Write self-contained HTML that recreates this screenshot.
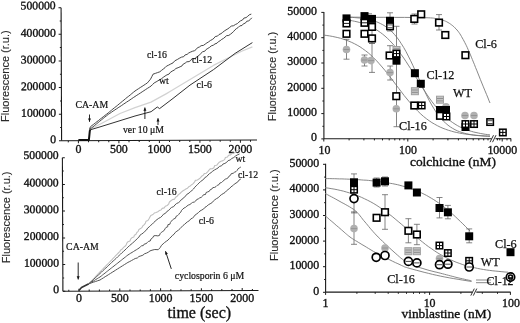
<!DOCTYPE html>
<html><head><meta charset="utf-8"><style>
html,body{margin:0;padding:0;background:#fff;width:520px;height:323px;overflow:hidden}
svg{display:block;will-change:transform;filter:blur(0.3px)}
</style></head><body>
<svg width="520" height="323" viewBox="0 0 520 323">
<rect width="520" height="323" fill="#fff"/>
<g transform="rotate(-0.22 61.6 140.8)">
<line x1="61.6" y1="7.7" x2="61.6" y2="140.8" stroke="#1a1a1a" stroke-width="1.1"/>
<line x1="61.6" y1="7.7" x2="59.0" y2="7.7" stroke="#1a1a1a" stroke-width="1"/>
<line x1="61.6" y1="21.0" x2="60.2" y2="21.0" stroke="#1a1a1a" stroke-width="1"/>
<text x="56.2" y="9.3" font-family='"Liberation Serif", serif' font-size="11.7" text-anchor="end" fill="#111" stroke="#111" stroke-width="0.35" >500000</text>
<line x1="61.6" y1="34.3" x2="59.0" y2="34.3" stroke="#1a1a1a" stroke-width="1"/>
<line x1="61.6" y1="47.6" x2="60.2" y2="47.6" stroke="#1a1a1a" stroke-width="1"/>
<text x="56.2" y="36.7" font-family='"Liberation Serif", serif' font-size="11.7" text-anchor="end" fill="#111" stroke="#111" stroke-width="0.35" >400000</text>
<line x1="61.6" y1="60.9" x2="59.0" y2="60.9" stroke="#1a1a1a" stroke-width="1"/>
<line x1="61.6" y1="74.2" x2="60.2" y2="74.2" stroke="#1a1a1a" stroke-width="1"/>
<text x="56.2" y="63.3" font-family='"Liberation Serif", serif' font-size="11.7" text-anchor="end" fill="#111" stroke="#111" stroke-width="0.35" >300000</text>
<line x1="61.6" y1="87.6" x2="59.0" y2="87.6" stroke="#1a1a1a" stroke-width="1"/>
<line x1="61.6" y1="100.9" x2="60.2" y2="100.9" stroke="#1a1a1a" stroke-width="1"/>
<text x="56.2" y="90.0" font-family='"Liberation Serif", serif' font-size="11.7" text-anchor="end" fill="#111" stroke="#111" stroke-width="0.35" >200000</text>
<line x1="61.6" y1="114.2" x2="59.0" y2="114.2" stroke="#1a1a1a" stroke-width="1"/>
<line x1="61.6" y1="127.5" x2="60.2" y2="127.5" stroke="#1a1a1a" stroke-width="1"/>
<text x="56.2" y="116.6" font-family='"Liberation Serif", serif' font-size="11.7" text-anchor="end" fill="#111" stroke="#111" stroke-width="0.35" >100000</text>
<line x1="61.6" y1="140.8" x2="59.0" y2="140.8" stroke="#1a1a1a" stroke-width="1"/>
<text x="56.2" y="143.2" font-family='"Liberation Serif", serif' font-size="11.7" text-anchor="end" fill="#111" stroke="#111" stroke-width="0.35" >0</text>
<line x1="61.6" y1="140.8" x2="257.0" y2="140.8" stroke="#1a1a1a" stroke-width="1.1"/>
<line x1="68.3" y1="140.8" x2="68.3" y2="142.4" stroke="#1a1a1a" stroke-width="1"/>
<line x1="78.4" y1="140.8" x2="78.4" y2="143.4" stroke="#1a1a1a" stroke-width="1"/>
<line x1="88.5" y1="140.8" x2="88.5" y2="142.4" stroke="#1a1a1a" stroke-width="1"/>
<line x1="98.7" y1="140.8" x2="98.7" y2="142.4" stroke="#1a1a1a" stroke-width="1"/>
<line x1="108.8" y1="140.8" x2="108.8" y2="142.4" stroke="#1a1a1a" stroke-width="1"/>
<line x1="118.9" y1="140.8" x2="118.9" y2="143.4" stroke="#1a1a1a" stroke-width="1"/>
<line x1="129.0" y1="140.8" x2="129.0" y2="142.4" stroke="#1a1a1a" stroke-width="1"/>
<line x1="139.2" y1="140.8" x2="139.2" y2="142.4" stroke="#1a1a1a" stroke-width="1"/>
<line x1="149.3" y1="140.8" x2="149.3" y2="142.4" stroke="#1a1a1a" stroke-width="1"/>
<line x1="159.4" y1="140.8" x2="159.4" y2="143.4" stroke="#1a1a1a" stroke-width="1"/>
<line x1="169.5" y1="140.8" x2="169.5" y2="142.4" stroke="#1a1a1a" stroke-width="1"/>
<line x1="179.7" y1="140.8" x2="179.7" y2="142.4" stroke="#1a1a1a" stroke-width="1"/>
<line x1="189.8" y1="140.8" x2="189.8" y2="142.4" stroke="#1a1a1a" stroke-width="1"/>
<line x1="199.9" y1="140.8" x2="199.9" y2="143.4" stroke="#1a1a1a" stroke-width="1"/>
<line x1="210.0" y1="140.8" x2="210.0" y2="142.4" stroke="#1a1a1a" stroke-width="1"/>
<line x1="220.2" y1="140.8" x2="220.2" y2="142.4" stroke="#1a1a1a" stroke-width="1"/>
<line x1="230.3" y1="140.8" x2="230.3" y2="142.4" stroke="#1a1a1a" stroke-width="1"/>
<line x1="240.4" y1="140.8" x2="240.4" y2="143.4" stroke="#1a1a1a" stroke-width="1"/>
<line x1="250.5" y1="140.8" x2="250.5" y2="142.4" stroke="#1a1a1a" stroke-width="1"/>
</g>
<text x="78.4" y="152.9" font-family='"Liberation Serif", serif' font-size="11.9" text-anchor="middle" fill="#111" stroke="#111" stroke-width="0.35" >0</text>
<text x="118.9" y="152.9" font-family='"Liberation Serif", serif' font-size="11.9" text-anchor="middle" fill="#111" stroke="#111" stroke-width="0.35" >500</text>
<text x="159.4" y="152.9" font-family='"Liberation Serif", serif' font-size="11.9" text-anchor="middle" fill="#111" stroke="#111" stroke-width="0.35" >1000</text>
<text x="199.9" y="152.9" font-family='"Liberation Serif", serif' font-size="11.9" text-anchor="middle" fill="#111" stroke="#111" stroke-width="0.35" >1500</text>
<text x="240.4" y="152.9" font-family='"Liberation Serif", serif' font-size="11.9" text-anchor="middle" fill="#111" stroke="#111" stroke-width="0.35" >2000</text>
<g transform="rotate(-0.22 62.9 291.3)">
<line x1="62.9" y1="157.7" x2="62.9" y2="291.3" stroke="#1a1a1a" stroke-width="1.1"/>
<line x1="62.9" y1="157.7" x2="65.3" y2="157.7" stroke="#1a1a1a" stroke-width="1"/>
<line x1="62.9" y1="171.1" x2="64.2" y2="171.1" stroke="#1a1a1a" stroke-width="1"/>
<text x="59.1" y="158.9" font-family='"Liberation Serif", serif' font-size="11.7" text-anchor="end" fill="#111" stroke="#111" stroke-width="0.35" >500000</text>
<line x1="62.9" y1="184.4" x2="65.3" y2="184.4" stroke="#1a1a1a" stroke-width="1"/>
<line x1="62.9" y1="197.8" x2="64.2" y2="197.8" stroke="#1a1a1a" stroke-width="1"/>
<text x="59.1" y="186.4" font-family='"Liberation Serif", serif' font-size="11.7" text-anchor="end" fill="#111" stroke="#111" stroke-width="0.35" >400000</text>
<line x1="62.9" y1="211.1" x2="65.3" y2="211.1" stroke="#1a1a1a" stroke-width="1"/>
<line x1="62.9" y1="224.5" x2="64.2" y2="224.5" stroke="#1a1a1a" stroke-width="1"/>
<text x="59.1" y="213.1" font-family='"Liberation Serif", serif' font-size="11.7" text-anchor="end" fill="#111" stroke="#111" stroke-width="0.35" >300000</text>
<line x1="62.9" y1="237.9" x2="65.3" y2="237.9" stroke="#1a1a1a" stroke-width="1"/>
<line x1="62.9" y1="251.2" x2="64.2" y2="251.2" stroke="#1a1a1a" stroke-width="1"/>
<text x="59.1" y="239.9" font-family='"Liberation Serif", serif' font-size="11.7" text-anchor="end" fill="#111" stroke="#111" stroke-width="0.35" >200000</text>
<line x1="62.9" y1="264.6" x2="65.3" y2="264.6" stroke="#1a1a1a" stroke-width="1"/>
<line x1="62.9" y1="277.9" x2="64.2" y2="277.9" stroke="#1a1a1a" stroke-width="1"/>
<text x="59.1" y="266.6" font-family='"Liberation Serif", serif' font-size="11.7" text-anchor="end" fill="#111" stroke="#111" stroke-width="0.35" >100000</text>
<line x1="62.9" y1="291.3" x2="65.3" y2="291.3" stroke="#1a1a1a" stroke-width="1"/>
<text x="59.1" y="293.3" font-family='"Liberation Serif", serif' font-size="11.7" text-anchor="end" fill="#111" stroke="#111" stroke-width="0.35" >0</text>
<line x1="62.9" y1="291.3" x2="258.5" y2="291.3" stroke="#1a1a1a" stroke-width="1.1"/>
<line x1="68.8" y1="291.3" x2="68.8" y2="289.7" stroke="#1a1a1a" stroke-width="1"/>
<line x1="79.0" y1="291.3" x2="79.0" y2="288.7" stroke="#1a1a1a" stroke-width="1"/>
<line x1="89.2" y1="291.3" x2="89.2" y2="289.7" stroke="#1a1a1a" stroke-width="1"/>
<line x1="99.4" y1="291.3" x2="99.4" y2="289.7" stroke="#1a1a1a" stroke-width="1"/>
<line x1="109.6" y1="291.3" x2="109.6" y2="289.7" stroke="#1a1a1a" stroke-width="1"/>
<line x1="119.8" y1="291.3" x2="119.8" y2="288.7" stroke="#1a1a1a" stroke-width="1"/>
<line x1="130.0" y1="291.3" x2="130.0" y2="289.7" stroke="#1a1a1a" stroke-width="1"/>
<line x1="140.2" y1="291.3" x2="140.2" y2="289.7" stroke="#1a1a1a" stroke-width="1"/>
<line x1="150.4" y1="291.3" x2="150.4" y2="289.7" stroke="#1a1a1a" stroke-width="1"/>
<line x1="160.6" y1="291.3" x2="160.6" y2="288.7" stroke="#1a1a1a" stroke-width="1"/>
<line x1="170.8" y1="291.3" x2="170.8" y2="289.7" stroke="#1a1a1a" stroke-width="1"/>
<line x1="181.0" y1="291.3" x2="181.0" y2="289.7" stroke="#1a1a1a" stroke-width="1"/>
<line x1="191.2" y1="291.3" x2="191.2" y2="289.7" stroke="#1a1a1a" stroke-width="1"/>
<line x1="201.4" y1="291.3" x2="201.4" y2="288.7" stroke="#1a1a1a" stroke-width="1"/>
<line x1="211.6" y1="291.3" x2="211.6" y2="289.7" stroke="#1a1a1a" stroke-width="1"/>
<line x1="221.8" y1="291.3" x2="221.8" y2="289.7" stroke="#1a1a1a" stroke-width="1"/>
<line x1="232.0" y1="291.3" x2="232.0" y2="289.7" stroke="#1a1a1a" stroke-width="1"/>
<line x1="242.2" y1="291.3" x2="242.2" y2="288.7" stroke="#1a1a1a" stroke-width="1"/>
<line x1="252.4" y1="291.3" x2="252.4" y2="289.7" stroke="#1a1a1a" stroke-width="1"/>
</g>
<text x="79.0" y="301.9" font-family='"Liberation Serif", serif' font-size="11.9" text-anchor="middle" fill="#111" stroke="#111" stroke-width="0.35" >0</text>
<text x="119.8" y="301.9" font-family='"Liberation Serif", serif' font-size="11.9" text-anchor="middle" fill="#111" stroke="#111" stroke-width="0.35" >500</text>
<text x="160.6" y="301.9" font-family='"Liberation Serif", serif' font-size="11.9" text-anchor="middle" fill="#111" stroke="#111" stroke-width="0.35" >1000</text>
<text x="201.4" y="301.9" font-family='"Liberation Serif", serif' font-size="11.9" text-anchor="middle" fill="#111" stroke="#111" stroke-width="0.35" >1500</text>
<text x="242.2" y="301.9" font-family='"Liberation Serif", serif' font-size="11.9" text-anchor="middle" fill="#111" stroke="#111" stroke-width="0.35" >2000</text>
<polyline points="78.4,139.9 88.9,139.9 89.8,131.0 90.3,129.3" fill="none" stroke="#111" stroke-width="2.0" stroke-linejoin="round" opacity="1"/>
<polyline points="89.6,129.5 100.0,124.2 120.0,113.5 135.0,107.6 151.0,102.1 166.5,93.6 170.0,91.6 190.0,79.6 213.4,65.4 241.6,51.3 252.4,46.9" fill="none" stroke="#d2d2d2" stroke-width="1.2" stroke-linejoin="round" opacity="1"/>
<polyline points="89.6,130.0 100.0,126.9 135.0,116.0 151.1,111.7 157.3,107.0 159.6,108.6 172.0,99.2 190.0,85.1 213.4,69.7 235.1,53.4 252.4,42.6" fill="none" stroke="#333" stroke-width="1.0" stroke-linejoin="round" opacity="1"/>
<polyline points="89.6,129.5 91.3,128.1 93.0,126.8 94.7,125.4 96.4,124.0 98.1,122.6 99.7,121.3 101.4,119.9 103.1,118.5 104.8,117.1 106.5,115.8 108.2,114.4 109.9,113.3 111.5,112.2 113.2,111.0 114.9,109.9 116.6,108.8 118.2,107.7 119.9,106.6 121.6,105.5 123.3,104.3 125.0,103.2 126.6,102.1 128.3,101.0 130.0,99.9 131.7,98.7 133.3,97.6 135.0,96.5 136.8,95.3 138.6,94.2 140.4,93.0 142.2,91.8 143.9,90.7 145.7,89.5 147.5,88.3 149.3,87.2 151.1,86.0 152.6,84.5 154.2,82.9 156.1,81.9 157.9,80.8 159.8,79.8 161.6,78.6 163.3,77.3 165.1,76.0 166.9,74.9 169.0,74.1 170.4,72.3 172.2,71.1 174.2,70.1 175.9,68.5 178.1,67.7 180.1,66.8 182.0,65.9 183.3,64.0 185.2,63.1 186.8,61.8 189.1,61.6 190.8,60.4 192.1,58.5 194.6,58.6 196.4,57.5 197.9,56.1 199.7,54.9 201.0,53.2 202.6,51.8 204.8,51.2 206.1,49.5 207.9,48.4 209.7,47.3 211.2,45.9 213.3,45.2 215.0,43.9 217.0,43.2 218.4,41.7 220.2,40.7 221.7,39.4 223.5,38.4 225.0,37.1 226.6,35.7 228.8,35.4 230.5,34.2 232.1,32.9 233.6,31.5 235.0,29.8 236.6,28.5 238.3,27.4 239.8,25.9 242.0,25.5 243.4,23.8 245.4,23.1 246.7,21.3 248.8,20.8 250.4,19.4 251.8,17.8" fill="none" stroke="#333" stroke-width="0.9" stroke-linejoin="round" opacity="1"/>
<polyline points="89.6,129.0 90.4,126.8 92.0,125.5 93.6,124.3 95.3,123.0 96.9,121.7 98.5,120.5 100.1,119.2 101.7,118.0 103.3,116.7 105.0,115.4 106.6,114.2 108.2,112.9 109.8,111.6 111.4,110.3 112.9,109.0 114.5,107.7 116.1,106.5 117.7,105.2 119.2,103.9 120.8,102.6 122.4,101.3 124.0,100.0 125.5,98.7 127.1,97.4 128.7,96.2 130.3,94.9 131.8,93.6 133.4,92.3 135.0,91.0 136.8,89.8 138.5,88.7 140.3,87.5 142.1,86.4 143.9,85.2 145.6,84.1 147.4,82.9 148.9,81.1 150.5,79.2 151.8,76.7 153.0,74.2 155.3,73.4 157.5,72.6 159.8,71.8 161.5,70.4 163.2,69.1 165.0,67.7 166.5,66.1 168.5,65.2 170.7,64.0 173.0,62.9 174.8,60.8 177.3,59.5 179.8,58.0 181.6,57.1 183.7,56.7 185.1,54.9 187.1,54.4 188.7,53.0 190.5,52.1 192.4,51.3 194.5,50.7 196.1,49.5 197.5,47.7 199.4,47.0 201.1,45.7 203.4,45.4 205.2,44.1 206.9,42.9 208.7,41.8 210.4,40.5 212.3,39.5 214.0,38.2 215.3,36.5 217.5,36.1 219.0,34.5 221.0,33.7 222.6,32.4 224.2,31.1 226.0,29.9 227.9,28.8 229.6,27.5 231.3,26.1 233.6,25.7 235.4,24.5 237.4,23.6 238.9,22.1 240.6,20.8 242.5,20.0 243.9,18.1 246.1,17.6 247.7,16.3 249.3,14.8 251.3,14.1" fill="none" stroke="#333" stroke-width="0.9" stroke-linejoin="round" opacity="1"/>
<line x1="89.5" y1="114.5" x2="89.5" y2="121.8" stroke="#111" stroke-width="0.9"/>
<polygon points="89.5,121.8 88.0,118.6 91.0,118.6" fill="#111"/>
<line x1="144.9" y1="119.0" x2="144.9" y2="107.5" stroke="#111" stroke-width="0.9"/>
<polygon points="144.9,107.5 146.4,110.7 143.4,110.7" fill="#111"/>
<line x1="158.0" y1="125.0" x2="158.0" y2="118.2" stroke="#111" stroke-width="0.9"/>
<polygon points="158.0,118.2 159.5,121.4 156.5,121.4" fill="#111"/>
<text x="75.5" y="107.6" font-family='"Liberation Serif", serif' font-size="9.8" text-anchor="start" fill="#111" stroke="#111" stroke-width="0.2" >CA-AM</text>
<text x="146.9" y="58.4" font-family='"Liberation Serif", serif' font-size="9.8" text-anchor="start" fill="#111" stroke="#111" stroke-width="0.2" >cl-16</text>
<text x="192.0" y="63.0" font-family='"Liberation Serif", serif' font-size="9.8" text-anchor="start" fill="#111" stroke="#111" stroke-width="0.2" >cl-12</text>
<text x="159.0" y="84.4" font-family='"Liberation Serif", serif' font-size="9.8" text-anchor="start" fill="#111" stroke="#111" stroke-width="0.2" >wt</text>
<text x="196.6" y="88.2" font-family='"Liberation Serif", serif' font-size="9.8" text-anchor="start" fill="#111" stroke="#111" stroke-width="0.2" >cl-6</text>
<text x="122.9" y="132.6" font-family='"Liberation Serif", serif' font-size="9.8" text-anchor="start" fill="#111" stroke="#111" stroke-width="0.2" >ver 10 &#956;M</text>
<polyline points="78.7,290.8 81.5,287.5 88.9,283.7" fill="none" stroke="#333" stroke-width="1.6" stroke-linejoin="round" opacity="1"/>
<polyline points="88.9,283.7 90.3,282.2 91.7,280.8 93.1,279.3 94.5,277.9 95.8,276.4 97.2,274.9 98.6,273.5 100.0,272.0 101.3,270.6 102.6,269.3 103.9,267.9 105.2,266.6 106.6,265.2 107.9,263.9 109.2,262.5 110.5,261.1 111.8,259.8 113.1,258.4 114.4,257.1 115.7,255.7 117.0,254.3 118.3,253.0 119.7,251.6 120.7,250.0 122.3,249.0 123.5,247.4 125.0,246.3 126.2,244.9 126.8,243.1 128.0,241.7 130.0,241.0 130.6,239.1 131.8,237.8 133.8,237.1 134.4,235.2 136.0,234.2 136.8,232.5 138.2,231.3 138.9,229.5 140.6,228.6 142.0,227.4 142.9,225.7 144.3,224.6 145.4,223.1 146.0,221.2 147.9,220.5 148.9,219.0 149.8,217.3 150.8,215.4 153.0,214.5 154.3,213.1 156.1,212.5 157.8,211.8 159.3,210.6 161.0,210.0 162.2,208.4 164.2,207.9 165.3,206.3 167.2,205.5 168.6,204.2 169.4,202.0 170.9,200.8 172.4,199.6 174.6,199.1 175.6,197.3 177.2,196.2 178.4,194.6 180.0,193.5 181.3,192.2 182.7,191.0 184.3,190.1 185.8,189.0 187.5,188.2 188.7,186.8 190.3,185.9 191.7,184.7 193.2,183.6 194.4,182.1 195.4,180.4 197.4,180.0 198.9,179.0 200.3,177.8 201.6,176.3 203.2,175.3 204.3,173.6 206.3,173.2 207.6,171.8 208.8,170.3 210.1,168.9 212.3,168.7 213.9,167.7 214.7,165.5 216.8,165.2 218.0,163.6 219.3,162.2 221.0,161.2 223.0,160.6 224.6,159.6 225.4,157.5 227.5,157.0 228.5,155.3 230.6,154.9 231.9,153.3 233.9,153.1 235.5,152.3 236.8,150.8 238.7,150.5 240.0,149.0" fill="none" stroke="#c0c0c0" stroke-width="1.1" stroke-linejoin="round" opacity="1"/>
<polyline points="88.9,283.7 90.5,282.2 92.1,280.8 93.7,279.3 95.2,277.9 96.8,276.4 98.4,275.0 100.0,273.5 101.5,272.1 102.9,270.7 104.4,269.3 105.9,268.0 107.3,266.6 108.8,265.2 110.3,263.8 111.7,262.4 113.2,261.0 114.7,259.7 116.2,258.3 117.6,256.9 119.1,255.5 120.6,254.1 122.0,252.7 123.5,251.4 125.0,250.0 126.4,248.6 127.9,247.2 129.4,245.7 131.0,244.4 132.6,243.0 134.2,241.6 135.8,240.2 137.2,238.6 138.8,237.3 139.9,235.3 141.6,234.1 143.4,232.9 144.8,231.3 146.5,230.0 147.6,228.1 149.3,226.8 150.7,225.3 152.4,224.0 153.9,222.5 155.3,220.9 157.0,219.6 158.7,218.3 160.6,217.4 162.2,215.9 163.5,214.2 165.5,213.3 166.8,211.5 168.6,210.5 170.0,208.8 171.6,207.4 173.7,206.6 175.0,204.9 176.6,203.5 178.6,202.6 180.2,201.2 181.4,199.5 183.2,198.5 184.4,196.9 186.0,195.7 187.2,194.0 189.1,193.1 190.4,191.6 192.1,190.4 193.5,189.0 194.7,187.3 196.2,185.9 197.5,184.5 199.0,183.1 200.4,181.7 202.0,180.5 203.7,179.3 204.8,177.6 206.7,176.6 208.0,175.0 209.4,173.7 211.1,172.6 212.7,171.2 214.4,170.0 216.2,169.0 218.0,168.0 219.4,166.4 221.6,165.8 222.9,164.1 224.9,163.4 226.7,162.3 228.1,160.6 230.1,160.0 231.8,158.5 233.8,157.5 235.5,156.0 237.4,154.9 239.5,154.0" fill="none" stroke="#555" stroke-width="1.0" stroke-linejoin="round" opacity="1"/>
<polyline points="88.9,283.7 90.3,282.9 91.7,282.0 93.1,281.2 94.5,280.4 95.8,279.5 97.2,278.7 98.6,277.8 100.0,277.0 101.3,276.0 102.5,275.0 103.8,274.0 105.1,273.0 106.3,272.0 107.6,271.0 108.9,270.0 110.1,269.0 111.4,268.0 112.7,267.0 114.0,266.0 115.2,265.0 116.5,264.0 117.8,263.0 119.0,262.0 120.3,261.0 121.6,260.0 122.8,259.0 124.1,258.0 125.4,257.0 126.6,256.0 127.9,255.0 129.3,254.1 130.7,253.2 132.1,252.4 133.5,251.5 134.9,250.6 136.3,249.8 137.7,248.9 139.1,248.0 140.3,246.9 141.6,245.8 143.3,245.6 144.3,244.0 146.0,243.7 147.3,242.6 148.5,241.4 150.2,241.0 150.9,239.1 152.6,237.9 153.8,235.8 155.9,235.6 157.9,235.9 159.5,235.4 160.1,233.7 161.3,232.4 162.8,231.4 164.3,230.3 165.0,228.8 166.0,227.4 167.7,226.8 167.9,224.7 169.9,224.2 170.4,222.5 171.4,221.2 172.5,219.9 173.9,218.9 175.5,218.2 176.0,216.4 177.6,215.6 178.8,214.4 179.7,213.0 181.0,211.9 181.6,210.3 182.8,209.1 184.1,208.0 185.6,207.3 186.9,206.1 188.3,205.1 189.9,204.5 191.3,203.4 192.6,202.4 194.4,202.0 195.7,201.0 196.7,199.5 198.3,198.9 199.7,197.9 201.3,197.3 202.5,196.2 203.5,194.7 205.5,194.5 206.1,192.5 207.7,191.9 209.3,191.3 210.2,189.7 211.8,189.1 212.8,187.6 214.7,187.4 216.1,186.5 217.3,185.3 218.9,184.7 219.8,183.1 221.5,182.5 222.7,181.4 224.0,180.3 225.2,179.2 226.8,178.6 228.2,177.7 229.1,176.1 230.5,175.3 231.3,173.6 233.2,173.3 234.4,172.3 236.0,171.6 237.2,170.4 238.0,168.8 239.4,167.9 240.8,167.0" fill="none" stroke="#555" stroke-width="1.0" stroke-linejoin="round" opacity="1"/>
<polyline points="88.9,283.7 91.1,283.0 93.3,282.2 95.6,281.5 97.8,280.7 100.0,280.0 101.7,278.9 103.5,277.8 105.2,276.7 107.0,275.6 108.7,274.5 110.5,273.4 112.2,272.3 114.0,271.2 115.7,270.1 117.4,269.0 119.2,267.9 120.9,266.8 122.7,265.7 124.4,264.6 126.2,263.5 127.9,262.4 129.8,261.5 131.6,260.5 133.4,259.5 135.2,258.5 137.3,258.0 138.9,256.5 140.9,255.9 142.9,255.2 144.5,253.8 146.5,253.1 148.3,252.2 150.0,250.9 152.0,250.2 154.8,249.5 158.2,249.7 160.1,247.7 161.5,245.3 163.1,243.9 164.6,242.5 166.3,241.3 168.0,240.1 169.4,238.5 171.0,237.1 172.3,235.5 174.0,234.3 175.2,232.5 176.9,231.2 178.6,230.0 180.1,228.6 181.5,227.1 182.9,225.6 184.5,224.4 186.0,223.0 187.6,221.7 189.4,220.7 190.7,219.0 192.5,218.0 194.0,216.7 195.2,214.9 196.9,213.8 198.5,212.5 200.0,211.0 201.8,210.0 203.6,209.0 205.0,207.3 206.8,206.3 208.3,204.8 210.1,203.8 211.9,202.8 213.3,201.1 214.8,199.8 216.5,198.6 218.4,197.6 219.8,196.0 221.4,194.7 223.2,193.6 225.0,192.5 226.4,190.9 228.0,189.6 229.7,188.4 231.0,186.8 232.8,185.7 234.3,184.1 236.0,183.1 237.8,181.9 239.0,180.1 240.8,179.0" fill="none" stroke="#555" stroke-width="1.0" stroke-linejoin="round" opacity="1"/>
<line x1="78.2" y1="262.5" x2="78.2" y2="279.5" stroke="#111" stroke-width="0.9"/>
<polygon points="78.2,279.5 76.7,276.3 79.7,276.3" fill="#111"/>
<line x1="171.3" y1="268.9" x2="165.5" y2="251.2" stroke="#111" stroke-width="0.9"/>
<polygon points="165.5,251.2 167.9,253.8 165.1,254.7" fill="#111"/>
<text x="66.1" y="250.2" font-family='"Liberation Serif", serif' font-size="9.8" text-anchor="start" fill="#111" stroke="#111" stroke-width="0.2" >CA-AM</text>
<text x="235.5" y="161.8" font-family='"Liberation Serif", serif' font-size="9.8" text-anchor="start" fill="#111" stroke="#111" stroke-width="0.2" >wt</text>
<text x="238.0" y="177.6" font-family='"Liberation Serif", serif' font-size="9.8" text-anchor="start" fill="#111" stroke="#111" stroke-width="0.2" >cl-12</text>
<text x="156.6" y="194.7" font-family='"Liberation Serif", serif' font-size="9.8" text-anchor="start" fill="#111" stroke="#111" stroke-width="0.2" >cl-16</text>
<text x="198.7" y="223.7" font-family='"Liberation Serif", serif' font-size="9.8" text-anchor="start" fill="#111" stroke="#111" stroke-width="0.2" >cl-6</text>
<text x="174.8" y="279.0" font-family='"Liberation Serif", serif' font-size="9.8" text-anchor="start" fill="#111" stroke="#111" stroke-width="0.2" >cyclosporin 6 &#956;M</text>
<text x="199.3" y="317.9" font-family='"Liberation Serif", serif' font-size="16" text-anchor="middle" fill="#111" stroke="#111" stroke-width="0.35" >time (sec)</text>
<text transform="translate(8.6,122.0) rotate(-90)" font-family='"Liberation Sans", sans-serif' font-size="11" fill="#2a2a2a" stroke="#2a2a2a" stroke-width="0.12">Fluorescence (r.u.)</text>
<text transform="translate(10.4,263.2) rotate(-90)" font-family='"Liberation Sans", sans-serif' font-size="11" fill="#2a2a2a" stroke="#2a2a2a" stroke-width="0.12">Fluorescence (r.u.)</text>
<text transform="translate(275.6,121.0) rotate(-90)" font-family='"Liberation Sans", sans-serif' font-size="10.7" fill="#2a2a2a" stroke="#2a2a2a" stroke-width="0.12">Fluorescence (r.u.)</text>
<text transform="translate(278.2,261.0) rotate(-90)" font-family='"Liberation Sans", sans-serif' font-size="11" fill="#2a2a2a" stroke="#2a2a2a" stroke-width="0.12">Fluorescence (r.u.)</text>
<line x1="323.9" y1="11.9" x2="323.9" y2="138.7" stroke="#1a1a1a" stroke-width="1.1"/>
<line x1="323.9" y1="12.4" x2="321.3" y2="12.4" stroke="#1a1a1a" stroke-width="1"/>
<line x1="323.9" y1="25.1" x2="322.4" y2="25.1" stroke="#1a1a1a" stroke-width="1"/>
<text x="317.0" y="14.7" font-family='"Liberation Serif", serif' font-size="11.9" text-anchor="end" fill="#111" stroke="#111" stroke-width="0.35" >50000</text>
<line x1="323.9" y1="37.7" x2="321.3" y2="37.7" stroke="#1a1a1a" stroke-width="1"/>
<line x1="323.9" y1="50.4" x2="322.4" y2="50.4" stroke="#1a1a1a" stroke-width="1"/>
<text x="317.0" y="40.0" font-family='"Liberation Serif", serif' font-size="11.9" text-anchor="end" fill="#111" stroke="#111" stroke-width="0.35" >40000</text>
<line x1="323.9" y1="63.0" x2="321.3" y2="63.0" stroke="#1a1a1a" stroke-width="1"/>
<line x1="323.9" y1="75.7" x2="322.4" y2="75.7" stroke="#1a1a1a" stroke-width="1"/>
<text x="317.0" y="65.3" font-family='"Liberation Serif", serif' font-size="11.9" text-anchor="end" fill="#111" stroke="#111" stroke-width="0.35" >30000</text>
<line x1="323.9" y1="88.3" x2="321.3" y2="88.3" stroke="#1a1a1a" stroke-width="1"/>
<line x1="323.9" y1="101.0" x2="322.4" y2="101.0" stroke="#1a1a1a" stroke-width="1"/>
<text x="317.0" y="90.6" font-family='"Liberation Serif", serif' font-size="11.9" text-anchor="end" fill="#111" stroke="#111" stroke-width="0.35" >20000</text>
<line x1="323.9" y1="113.6" x2="321.3" y2="113.6" stroke="#1a1a1a" stroke-width="1"/>
<line x1="323.9" y1="126.3" x2="322.4" y2="126.3" stroke="#1a1a1a" stroke-width="1"/>
<text x="317.0" y="115.9" font-family='"Liberation Serif", serif' font-size="11.9" text-anchor="end" fill="#111" stroke="#111" stroke-width="0.35" >10000</text>
<line x1="323.9" y1="138.9" x2="321.3" y2="138.9" stroke="#1a1a1a" stroke-width="1"/>
<text x="317.0" y="141.2" font-family='"Liberation Serif", serif' font-size="11.9" text-anchor="end" fill="#111" stroke="#111" stroke-width="0.35" >0</text>
<line x1="323.9" y1="138.7" x2="491.5" y2="138.7" stroke="#1a1a1a" stroke-width="1.1"/>
<line x1="495.5" y1="138.7" x2="511.1" y2="138.7" stroke="#1a1a1a" stroke-width="1.1"/>
<line x1="490.0" y1="142.2" x2="493.5" y2="135.2" stroke="#1a1a1a" stroke-width="0.9"/>
<line x1="492.5" y1="142.2" x2="496.0" y2="135.2" stroke="#1a1a1a" stroke-width="0.9"/>
<line x1="323.8" y1="138.7" x2="323.8" y2="141.5" stroke="#1a1a1a" stroke-width="1"/>
<line x1="349.1" y1="138.7" x2="349.1" y2="140.4" stroke="#1a1a1a" stroke-width="1"/>
<line x1="363.9" y1="138.7" x2="363.9" y2="140.4" stroke="#1a1a1a" stroke-width="1"/>
<line x1="374.4" y1="138.7" x2="374.4" y2="140.4" stroke="#1a1a1a" stroke-width="1"/>
<line x1="382.5" y1="138.7" x2="382.5" y2="140.4" stroke="#1a1a1a" stroke-width="1"/>
<line x1="389.2" y1="138.7" x2="389.2" y2="140.4" stroke="#1a1a1a" stroke-width="1"/>
<line x1="394.8" y1="138.7" x2="394.8" y2="140.4" stroke="#1a1a1a" stroke-width="1"/>
<line x1="399.7" y1="138.7" x2="399.7" y2="140.4" stroke="#1a1a1a" stroke-width="1"/>
<line x1="404.0" y1="138.7" x2="404.0" y2="140.4" stroke="#1a1a1a" stroke-width="1"/>
<line x1="407.8" y1="138.7" x2="407.8" y2="141.5" stroke="#1a1a1a" stroke-width="1"/>
<line x1="433.1" y1="138.7" x2="433.1" y2="140.4" stroke="#1a1a1a" stroke-width="1"/>
<line x1="447.9" y1="138.7" x2="447.9" y2="140.4" stroke="#1a1a1a" stroke-width="1"/>
<line x1="458.4" y1="138.7" x2="458.4" y2="140.4" stroke="#1a1a1a" stroke-width="1"/>
<line x1="466.5" y1="138.7" x2="466.5" y2="140.4" stroke="#1a1a1a" stroke-width="1"/>
<line x1="473.2" y1="138.7" x2="473.2" y2="140.4" stroke="#1a1a1a" stroke-width="1"/>
<line x1="478.8" y1="138.7" x2="478.8" y2="140.4" stroke="#1a1a1a" stroke-width="1"/>
<line x1="483.7" y1="138.7" x2="483.7" y2="140.4" stroke="#1a1a1a" stroke-width="1"/>
<line x1="488.0" y1="138.7" x2="488.0" y2="140.4" stroke="#1a1a1a" stroke-width="1"/>
<line x1="497.4" y1="138.7" x2="497.4" y2="140.4" stroke="#1a1a1a" stroke-width="1"/>
<line x1="499.8" y1="138.7" x2="499.8" y2="140.4" stroke="#1a1a1a" stroke-width="1"/>
<line x1="502.2" y1="138.7" x2="502.2" y2="141.5" stroke="#1a1a1a" stroke-width="1"/>
<line x1="507.0" y1="138.7" x2="507.0" y2="140.4" stroke="#1a1a1a" stroke-width="1"/>
<line x1="510.9" y1="138.7" x2="510.9" y2="141.5" stroke="#1a1a1a" stroke-width="1"/>
<text x="324.4" y="153.9" font-family='"Liberation Serif", serif' font-size="11.9" text-anchor="middle" fill="#111" stroke="#111" stroke-width="0.35" >10</text>
<text x="408.0" y="153.9" font-family='"Liberation Serif", serif' font-size="11.9" text-anchor="middle" fill="#111" stroke="#111" stroke-width="0.35" >100</text>
<text x="502.3" y="153.9" font-family='"Liberation Serif", serif' font-size="11.9" text-anchor="middle" fill="#111" stroke="#111" stroke-width="0.35" >10000</text>
<text x="452.9" y="165.7" font-family='"Liberation Serif", serif' font-size="13.4" text-anchor="middle" fill="#111" stroke="#111" stroke-width="0.35" >colchicine (nM)</text>
<line x1="325.6" y1="163.8" x2="325.6" y2="292.1" stroke="#1a1a1a" stroke-width="1.1"/>
<line x1="325.6" y1="164.3" x2="323.0" y2="164.3" stroke="#1a1a1a" stroke-width="1"/>
<line x1="325.6" y1="177.1" x2="324.1" y2="177.1" stroke="#1a1a1a" stroke-width="1"/>
<text x="319.2" y="166.7" font-family='"Liberation Serif", serif' font-size="11.9" text-anchor="end" fill="#111" stroke="#111" stroke-width="0.35" >50000</text>
<line x1="325.6" y1="189.9" x2="323.0" y2="189.9" stroke="#1a1a1a" stroke-width="1"/>
<line x1="325.6" y1="202.7" x2="324.1" y2="202.7" stroke="#1a1a1a" stroke-width="1"/>
<text x="319.2" y="192.3" font-family='"Liberation Serif", serif' font-size="11.9" text-anchor="end" fill="#111" stroke="#111" stroke-width="0.35" >40000</text>
<line x1="325.6" y1="215.5" x2="323.0" y2="215.5" stroke="#1a1a1a" stroke-width="1"/>
<line x1="325.6" y1="228.3" x2="324.1" y2="228.3" stroke="#1a1a1a" stroke-width="1"/>
<text x="319.2" y="217.9" font-family='"Liberation Serif", serif' font-size="11.9" text-anchor="end" fill="#111" stroke="#111" stroke-width="0.35" >30000</text>
<line x1="325.6" y1="241.1" x2="323.0" y2="241.1" stroke="#1a1a1a" stroke-width="1"/>
<line x1="325.6" y1="253.9" x2="324.1" y2="253.9" stroke="#1a1a1a" stroke-width="1"/>
<text x="319.2" y="243.5" font-family='"Liberation Serif", serif' font-size="11.9" text-anchor="end" fill="#111" stroke="#111" stroke-width="0.35" >20000</text>
<line x1="325.6" y1="266.7" x2="323.0" y2="266.7" stroke="#1a1a1a" stroke-width="1"/>
<line x1="325.6" y1="279.5" x2="324.1" y2="279.5" stroke="#1a1a1a" stroke-width="1"/>
<text x="319.2" y="269.1" font-family='"Liberation Serif", serif' font-size="11.9" text-anchor="end" fill="#111" stroke="#111" stroke-width="0.35" >10000</text>
<line x1="325.6" y1="292.3" x2="323.0" y2="292.3" stroke="#1a1a1a" stroke-width="1"/>
<text x="319.2" y="294.7" font-family='"Liberation Serif", serif' font-size="11.9" text-anchor="end" fill="#111" stroke="#111" stroke-width="0.35" >0</text>
<line x1="325.6" y1="292.1" x2="472.3" y2="292.1" stroke="#1a1a1a" stroke-width="1.1"/>
<line x1="476.3" y1="292.1" x2="510.6" y2="292.1" stroke="#1a1a1a" stroke-width="1.1"/>
<line x1="470.8" y1="295.6" x2="474.3" y2="288.6" stroke="#1a1a1a" stroke-width="0.9"/>
<line x1="473.3" y1="295.6" x2="476.8" y2="288.6" stroke="#1a1a1a" stroke-width="0.9"/>
<line x1="325.6" y1="292.1" x2="325.6" y2="294.9" stroke="#1a1a1a" stroke-width="1"/>
<line x1="356.9" y1="292.1" x2="356.9" y2="293.8" stroke="#1a1a1a" stroke-width="1"/>
<line x1="375.2" y1="292.1" x2="375.2" y2="293.8" stroke="#1a1a1a" stroke-width="1"/>
<line x1="388.2" y1="292.1" x2="388.2" y2="293.8" stroke="#1a1a1a" stroke-width="1"/>
<line x1="398.3" y1="292.1" x2="398.3" y2="293.8" stroke="#1a1a1a" stroke-width="1"/>
<line x1="406.5" y1="292.1" x2="406.5" y2="293.8" stroke="#1a1a1a" stroke-width="1"/>
<line x1="413.5" y1="292.1" x2="413.5" y2="293.8" stroke="#1a1a1a" stroke-width="1"/>
<line x1="419.5" y1="292.1" x2="419.5" y2="293.8" stroke="#1a1a1a" stroke-width="1"/>
<line x1="424.8" y1="292.1" x2="424.8" y2="293.8" stroke="#1a1a1a" stroke-width="1"/>
<line x1="429.6" y1="292.1" x2="429.6" y2="294.9" stroke="#1a1a1a" stroke-width="1"/>
<line x1="460.9" y1="292.1" x2="460.9" y2="293.8" stroke="#1a1a1a" stroke-width="1"/>
<line x1="482.3" y1="292.1" x2="482.3" y2="293.8" stroke="#1a1a1a" stroke-width="1"/>
<line x1="497.5" y1="292.1" x2="497.5" y2="293.8" stroke="#1a1a1a" stroke-width="1"/>
<line x1="510.4" y1="292.1" x2="510.4" y2="294.9" stroke="#1a1a1a" stroke-width="1"/>
<text x="325.6" y="307.2" font-family='"Liberation Serif", serif' font-size="11.9" text-anchor="middle" fill="#111" stroke="#111" stroke-width="0.35" >1</text>
<text x="429.6" y="307.2" font-family='"Liberation Serif", serif' font-size="11.9" text-anchor="middle" fill="#111" stroke="#111" stroke-width="0.35" >10</text>
<text x="511.0" y="307.2" font-family='"Liberation Serif", serif' font-size="11.9" text-anchor="middle" fill="#111" stroke="#111" stroke-width="0.35" >100</text>
<text x="446.3" y="318.0" font-family='"Liberation Serif", serif' font-size="13.4" text-anchor="middle" fill="#111" stroke="#111" stroke-width="0.35" >vinblastine (nM)</text>
<polyline points="350.0,17.2 355.8,17.2 363.8,17.3 373.5,17.3 383.9,17.3 394.6,17.4 404.6,17.4 413.3,17.5 420.0,17.6 424.7,17.7 428.1,17.8 430.5,17.9 432.2,18.0 433.4,18.1 434.4,18.3 435.5,18.5 437.0,18.8 438.7,19.1 440.2,19.5 441.7,19.8 443.0,20.3 444.3,20.7 445.5,21.2 446.8,21.8 448.0,22.5 449.2,23.2 450.4,24.0 451.6,24.9 452.8,25.8 453.9,26.8 454.9,27.8 456.0,28.9 457.0,30.0 458.0,31.2 458.9,32.4 459.8,33.7 460.7,35.1 461.5,36.5 462.3,38.0 463.2,39.5 464.0,41.0 464.8,42.6 465.6,44.1 466.4,45.7 467.2,47.4 467.9,49.1 468.7,50.9 469.6,52.9 470.5,55.0 471.4,57.2 472.4,59.6 473.4,62.1 474.5,64.7 475.5,67.4 476.7,70.2 477.8,73.0 479.0,76.0 480.3,79.3 481.8,83.0 483.4,86.9 485.0,90.8 486.6,94.6 488.0,98.0 489.1,100.9 490.0,103.0" fill="none" stroke="#7a7a7a" stroke-width="0.9" stroke-linejoin="round" opacity="1"/>
<polyline points="350.0,17.3 352.3,17.4 354.7,17.6 357.0,17.8 359.3,18.0 361.7,18.3 364.0,18.7 366.3,19.1 368.7,19.5 371.0,20.1 373.3,20.8 375.7,21.5 378.0,22.4 380.3,23.5 382.7,24.7 385.0,26.1 387.3,27.8 389.7,29.7 392.0,31.8 394.3,34.3 396.7,37.1 399.0,40.2 401.3,43.7 403.7,47.5 406.0,51.6 408.3,56.1 410.7,60.8 413.0,65.7 415.3,70.8 417.7,76.0 420.0,81.2 422.3,86.3 424.7,91.3 427.0,96.1 429.3,100.7 431.7,104.9 434.0,108.8 436.3,112.4 438.7,115.6 441.0,118.4 443.3,121.0 445.7,123.2 448.0,125.2 450.3,126.9 452.7,128.4 455.0,129.7 457.3,130.8 459.7,131.7 462.0,132.5 464.3,133.2 466.7,133.8 469.0,134.3 471.3,134.7 473.7,135.1 476.0,135.4 478.3,135.6 480.7,135.8 483.0,136.0 485.3,136.2 487.7,136.3 490.0,136.4" fill="none" stroke="#7a7a7a" stroke-width="0.9" stroke-linejoin="round" opacity="1"/>
<polyline points="350.0,20.3 352.3,20.8 354.7,21.3 357.0,21.8 359.3,22.4 361.7,23.1 364.0,23.9 366.3,24.7 368.7,25.7 371.0,26.8 373.3,28.0 375.7,29.3 378.0,30.8 380.3,32.4 382.7,34.2 385.0,36.1 387.3,38.2 389.7,40.5 392.0,43.0 394.3,45.6 396.7,48.5 399.0,51.5 401.3,54.7 403.7,58.0 406.0,61.5 408.3,65.1 410.7,68.7 413.0,72.5 415.3,76.2 417.7,80.0 420.0,83.8 422.3,87.5 424.7,91.1 427.0,94.6 429.3,98.0 431.7,101.3 434.0,104.3 436.3,107.3 438.7,110.0 441.0,112.5 443.3,114.9 445.7,117.1 448.0,119.1 450.3,120.9 452.7,122.6 455.0,124.1 457.3,125.5 459.7,126.8 462.0,127.9 464.3,128.9 466.7,129.8 469.0,130.6 471.3,131.3 473.7,132.0 476.0,132.5 478.3,133.0 480.7,133.5 483.0,133.9 485.3,134.3 487.7,134.6 490.0,134.9" fill="none" stroke="#7a7a7a" stroke-width="0.9" stroke-linejoin="round" opacity="1"/>
<polyline points="324.0,35.1 326.8,35.5 329.5,35.9 332.3,36.4 335.1,37.0 337.8,37.6 340.6,38.3 343.4,39.2 346.1,40.1 348.9,41.2 351.7,42.4 354.4,43.7 357.2,45.2 360.0,46.8 362.7,48.7 365.5,50.7 368.3,52.9 371.0,55.3 373.8,58.0 376.6,60.8 379.3,63.8 382.1,67.0 384.9,70.3 387.6,73.8 390.4,77.3 393.2,81.0 395.9,84.7 398.7,88.3 401.5,92.0 404.2,95.6 407.0,99.0 409.8,102.4 412.5,105.6 415.3,108.6 418.1,111.4 420.8,114.0 423.6,116.5 426.4,118.7 429.1,120.7 431.9,122.6 434.7,124.2 437.4,125.7 440.2,127.1 443.0,128.3 445.7,129.3 448.5,130.3 451.3,131.1 454.0,131.9 456.8,132.5 459.6,133.1 462.3,133.6 465.1,134.0 467.9,134.4 470.6,134.7 473.4,135.0 476.2,135.3 478.9,135.5 481.7,135.7 484.5,135.9 487.2,136.0 490.0,136.1" fill="none" stroke="#7a7a7a" stroke-width="0.9" stroke-linejoin="round" opacity="1"/>
<polyline points="325.0,178.5 327.4,178.6 329.8,178.6 332.2,178.7 334.7,178.7 337.1,178.8 339.5,178.9 341.9,178.9 344.3,179.0 346.8,179.1 349.2,179.2 351.6,179.3 354.0,179.5 356.4,179.6 358.8,179.7 361.2,179.9 363.7,180.1 366.1,180.2 368.5,180.4 370.9,180.7 373.3,180.9 375.8,181.2 378.2,181.4 380.6,181.8 383.0,182.1 385.4,182.4 387.8,182.8 390.2,183.3 392.7,183.7 395.1,184.2 397.5,184.7 399.9,185.3 402.3,186.0 404.8,186.6 407.2,187.4 409.6,188.1 412.0,189.0 414.4,189.9 416.8,190.8 419.2,191.9 421.7,193.0 424.1,194.2 426.5,195.4 428.9,196.8 431.3,198.2 433.8,199.7 436.2,201.3 438.6,202.9 441.0,204.7 443.4,206.5 445.8,208.4 448.2,210.4 450.7,212.5 453.1,214.6 455.5,216.8 457.9,219.1 460.3,221.4 462.8,223.8 465.2,226.2 467.6,228.6 470.0,231.1" fill="none" stroke="#7a7a7a" stroke-width="0.9" stroke-linejoin="round" opacity="1"/>
<polyline points="325.0,187.7 328.1,188.1 331.1,188.6 334.1,189.1 337.2,189.7 340.2,190.4 343.3,191.1 346.4,192.0 349.4,192.9 352.4,193.8 355.5,194.9 358.6,196.1 361.6,197.4 364.6,198.8 367.7,200.3 370.8,201.9 373.8,203.6 376.9,205.5 379.9,207.5 382.9,209.6 386.0,211.8 389.1,214.1 392.1,216.4 395.1,218.9 398.2,221.5 401.2,224.0 404.3,226.7 407.4,229.3 410.4,231.9 413.4,234.6 416.5,237.1 419.6,239.7 422.6,242.1 425.6,244.5 428.7,246.8 431.8,248.9 434.8,251.0 437.9,253.0 440.9,254.8 443.9,256.5 447.0,258.1 450.1,259.6 453.1,260.9 456.1,262.2 459.2,263.3 462.2,264.4 465.3,265.4 468.4,266.2 471.4,267.0 474.4,267.7 477.5,268.4 480.6,269.0 483.6,269.5 486.6,270.0 489.7,270.4 492.8,270.8 495.8,271.1 498.9,271.4 501.9,271.7 504.9,272.0 508.0,272.2" fill="none" stroke="#7a7a7a" stroke-width="0.9" stroke-linejoin="round" opacity="1"/>
<polyline points="325.0,193.4 326.2,194.0 327.7,194.8 329.5,195.8 331.6,196.9 333.7,198.0 335.9,199.2 338.0,200.4 340.0,201.5 341.9,202.6 343.9,203.6 345.8,204.7 347.8,205.8 349.7,206.9 351.6,208.1 353.4,209.2 355.0,210.5 356.5,211.8 357.8,213.2 359.1,214.6 360.2,216.0 361.4,217.5 362.5,219.0 363.7,220.5 365.0,222.0 366.3,223.5 367.6,225.1 368.8,226.6 370.1,228.2 371.5,229.8 372.9,231.4 374.5,233.2 376.2,235.0 378.1,237.0 380.3,239.1 382.6,241.4 384.9,243.6 387.3,245.9 389.7,248.1 391.9,250.1 394.0,252.0 395.9,253.7 397.6,255.2 399.3,256.7 400.9,258.1 402.5,259.3 404.1,260.6 405.8,261.7 407.7,262.8 409.7,263.8 411.8,264.8 414.0,265.6 416.2,266.4 418.5,267.2 420.7,267.9 422.9,268.5 425.0,269.2 427.1,269.8 429.1,270.4 431.1,270.9 433.0,271.4 435.0,271.9 436.9,272.3 438.9,272.8 440.8,273.3 442.7,273.8 444.6,274.3 446.5,274.8 448.4,275.3 450.3,275.8 452.2,276.3 454.1,276.8 456.0,277.3 458.0,277.8 460.2,278.3 462.5,278.8 464.7,279.3 466.8,279.8 468.7,280.2 470.3,280.5 471.5,280.8" fill="none" stroke="#7a7a7a" stroke-width="0.9" stroke-linejoin="round" opacity="1"/>
<polyline points="325.0,215.6 326.2,216.6 327.8,218.0 329.7,219.7 331.9,221.5 334.1,223.4 336.2,225.3 338.3,227.0 340.0,228.5 341.5,229.8 342.9,231.0 344.1,232.1 345.3,233.2 346.5,234.2 347.6,235.1 348.8,236.1 350.0,237.0 351.2,237.9 352.3,238.6 353.4,239.3 354.5,240.0 355.6,240.7 356.9,241.4 358.3,242.3 360.0,243.3 361.9,244.5 364.0,245.7 366.3,247.1 368.6,248.5 371.1,250.0 373.6,251.5 376.2,252.9 378.7,254.3 381.3,255.7 384.1,257.1 387.0,258.5 389.9,259.9 392.7,261.3 395.4,262.6 397.9,263.7 400.0,264.7 401.6,265.5 402.8,266.0 403.7,266.4 404.4,266.8 405.2,267.1 406.3,267.4 407.8,267.9 410.0,268.5 412.9,269.3 416.2,270.2 420.0,271.2 424.1,272.3 428.3,273.3 432.6,274.4 436.8,275.3 440.8,276.2 444.9,277.0 449.2,277.8 453.7,278.6 458.1,279.3 462.2,280.0 466.0,280.6 469.1,281.1 471.5,281.5" fill="none" stroke="#7a7a7a" stroke-width="0.9" stroke-linejoin="round" opacity="1"/>
<polyline points="476.0,280.0 491.0,280.0" fill="none" stroke="#7a7a7a" stroke-width="0.9" stroke-linejoin="round" opacity="1"/>
<polyline points="476.0,282.7 491.0,282.7" fill="none" stroke="#7a7a7a" stroke-width="0.9" stroke-linejoin="round" opacity="1"/>
<line x1="346.5" y1="39.3" x2="346.5" y2="59.2" stroke="#666" stroke-width="0.8"/>
<line x1="343.5" y1="39.3" x2="349.5" y2="39.3" stroke="#666" stroke-width="0.8"/>
<line x1="343.5" y1="59.2" x2="349.5" y2="59.2" stroke="#666" stroke-width="0.8"/>
<line x1="364.5" y1="55.0" x2="364.5" y2="66.0" stroke="#666" stroke-width="0.8"/>
<line x1="361.5" y1="55.0" x2="367.5" y2="55.0" stroke="#666" stroke-width="0.8"/>
<line x1="361.5" y1="66.0" x2="367.5" y2="66.0" stroke="#666" stroke-width="0.8"/>
<line x1="372.0" y1="43.4" x2="372.0" y2="72.4" stroke="#666" stroke-width="0.8"/>
<line x1="369.0" y1="43.4" x2="375.0" y2="43.4" stroke="#666" stroke-width="0.8"/>
<line x1="369.0" y1="72.4" x2="375.0" y2="72.4" stroke="#666" stroke-width="0.8"/>
<line x1="372.0" y1="27.0" x2="372.0" y2="43.4" stroke="#666" stroke-width="0.8"/>
<line x1="369.0" y1="27.0" x2="375.0" y2="27.0" stroke="#666" stroke-width="0.8"/>
<line x1="369.0" y1="43.4" x2="375.0" y2="43.4" stroke="#666" stroke-width="0.8"/>
<line x1="367.0" y1="13.8" x2="367.0" y2="18.0" stroke="#666" stroke-width="0.8"/>
<line x1="362.0" y1="13.8" x2="372.0" y2="13.8" stroke="#666" stroke-width="0.8"/>
<line x1="362.0" y1="18.0" x2="372.0" y2="18.0" stroke="#666" stroke-width="0.8"/>
<line x1="390.0" y1="45.7" x2="390.0" y2="55.0" stroke="#666" stroke-width="0.8"/>
<line x1="387.0" y1="45.7" x2="393.0" y2="45.7" stroke="#666" stroke-width="0.8"/>
<line x1="387.0" y1="55.0" x2="393.0" y2="55.0" stroke="#666" stroke-width="0.8"/>
<line x1="390.0" y1="12.8" x2="390.0" y2="31.0" stroke="#666" stroke-width="0.8"/>
<line x1="387.0" y1="12.8" x2="393.0" y2="12.8" stroke="#666" stroke-width="0.8"/>
<line x1="387.0" y1="31.0" x2="393.0" y2="31.0" stroke="#666" stroke-width="0.8"/>
<line x1="396.5" y1="26.3" x2="396.5" y2="126.7" stroke="#666" stroke-width="0.8"/>
<line x1="393.5" y1="26.3" x2="399.5" y2="26.3" stroke="#666" stroke-width="0.8"/>
<line x1="393.5" y1="126.7" x2="399.5" y2="126.7" stroke="#666" stroke-width="0.8"/>
<line x1="414.5" y1="14.0" x2="414.5" y2="24.0" stroke="#666" stroke-width="0.8"/>
<line x1="411.5" y1="14.0" x2="417.5" y2="14.0" stroke="#666" stroke-width="0.8"/>
<line x1="411.5" y1="24.0" x2="417.5" y2="24.0" stroke="#666" stroke-width="0.8"/>
<line x1="439.0" y1="14.6" x2="439.0" y2="30.0" stroke="#666" stroke-width="0.8"/>
<line x1="436.0" y1="14.6" x2="442.0" y2="14.6" stroke="#666" stroke-width="0.8"/>
<line x1="436.0" y1="30.0" x2="442.0" y2="30.0" stroke="#666" stroke-width="0.8"/>
<circle cx="346.5" cy="49.5" r="3.8" fill="#b0b0b0"/>
<line x1="343.5" y1="49.5" x2="349.5" y2="49.5" stroke="#8e8e8e" stroke-width="0.8"/>
<circle cx="364.5" cy="60.0" r="3.8" fill="#b0b0b0"/>
<line x1="361.5" y1="60.0" x2="367.5" y2="60.0" stroke="#8e8e8e" stroke-width="0.8"/>
<circle cx="371.0" cy="60.6" r="3.8" fill="#b0b0b0"/>
<line x1="368.0" y1="60.6" x2="374.0" y2="60.6" stroke="#8e8e8e" stroke-width="0.8"/>
<rect x="342.5" y="14.4" width="8.0" height="8.0" fill="#000"/>
<rect x="343.2" y="20.1" width="6.6" height="6.6" fill="#fff" stroke="#000" stroke-width="1.6"/>
<line x1="343.5" y1="23.4" x2="349.5" y2="23.4" stroke="#000" stroke-width="0.9"/>
<rect x="343.2" y="30.5" width="6.6" height="6.6" fill="#fff" stroke="#000" stroke-width="1.6"/>
<rect x="360.5" y="12.1" width="8.0" height="8.0" fill="#000"/>
<rect x="361.2" y="19.5" width="6.6" height="6.6" fill="#fff" stroke="#000" stroke-width="1.6"/>
<line x1="361.5" y1="22.8" x2="367.5" y2="22.8" stroke="#000" stroke-width="0.9"/>
<rect x="361.2" y="30.5" width="6.6" height="6.6" fill="#fff" stroke="#000" stroke-width="1.6"/>
<rect x="368.0" y="14.9" width="8.0" height="8.0" fill="#000"/>
<rect x="368.7" y="23.6" width="6.6" height="6.6" fill="#fff" stroke="#000" stroke-width="1.6"/>
<rect x="368.7" y="35.1" width="6.6" height="6.6" fill="#fff" stroke="#000" stroke-width="1.6"/>
<line x1="390.2" y1="66.0" x2="390.2" y2="80.0" stroke="#666" stroke-width="0.8"/>
<line x1="387.2" y1="66.0" x2="393.2" y2="66.0" stroke="#666" stroke-width="0.8"/>
<line x1="387.2" y1="80.0" x2="393.2" y2="80.0" stroke="#666" stroke-width="0.8"/>
<circle cx="390.0" cy="72.6" r="3.8" fill="#b0b0b0"/>
<line x1="387.0" y1="72.6" x2="393.0" y2="72.6" stroke="#8e8e8e" stroke-width="0.8"/>
<rect x="386.0" y="16.8" width="8.0" height="8.0" fill="#000"/>
<rect x="386.8" y="23.1" width="6.5" height="6.5" fill="#fff" stroke="#000" stroke-width="1.5"/>
<line x1="387.5" y1="24.9" x2="392.5" y2="24.9" stroke="#000" stroke-width="0.7"/>
<line x1="387.5" y1="27.7" x2="392.5" y2="27.7" stroke="#000" stroke-width="0.7"/>
<rect x="386.3" y="52.2" width="6.6" height="6.6" fill="#fff" stroke="#000" stroke-width="1.6"/>
<rect x="393.0" y="46.5" width="7.0" height="7.0" fill="#c4c4c4" stroke="#a0a0a0" stroke-width="1"/>
<line x1="393.5" y1="48.8" x2="399.5" y2="48.8" stroke="#8a8a8a" stroke-width="0.9"/>
<line x1="393.5" y1="51.2" x2="399.5" y2="51.2" stroke="#8a8a8a" stroke-width="0.9"/>
<rect x="393.2" y="50.4" width="6.5" height="6.5" fill="#fff" stroke="#000" stroke-width="1.5"/>
<line x1="393.5" y1="53.6" x2="399.5" y2="53.6" stroke="#000" stroke-width="1.0"/>
<line x1="396.5" y1="50.6" x2="396.5" y2="56.6" stroke="#000" stroke-width="1.0"/>
<rect x="392.5" y="56.7" width="8.0" height="8.0" fill="#000"/>
<rect x="393.0" y="92.9" width="6.6" height="6.6" fill="#fff" stroke="#000" stroke-width="1.6"/>
<circle cx="396.3" cy="108.8" r="3.8" fill="#b0b0b0"/>
<line x1="393.3" y1="108.8" x2="399.3" y2="108.8" stroke="#8e8e8e" stroke-width="0.8"/>
<rect x="411.0" y="15.6" width="6.6" height="6.6" fill="#fff" stroke="#000" stroke-width="1.6"/>
<rect x="417.9" y="11.0" width="6.6" height="6.6" fill="#fff" stroke="#000" stroke-width="1.6"/>
<rect x="435.7" y="19.3" width="6.6" height="6.6" fill="#fff" stroke="#000" stroke-width="1.6"/>
<rect x="442.0" y="31.7" width="6.6" height="6.6" fill="#fff" stroke="#000" stroke-width="1.6"/>
<rect x="462.1" y="51.9" width="6.6" height="6.6" fill="#fff" stroke="#000" stroke-width="1.6"/>
<rect x="410.9" y="69.2" width="8.0" height="8.0" fill="#000"/>
<rect x="416.8" y="79.8" width="8.0" height="8.0" fill="#000"/>
<rect x="411.4" y="87.7" width="7.0" height="7.0" fill="#c4c4c4" stroke="#a0a0a0" stroke-width="1"/>
<line x1="411.9" y1="90.0" x2="417.9" y2="90.0" stroke="#8a8a8a" stroke-width="0.9"/>
<line x1="411.9" y1="92.4" x2="417.9" y2="92.4" stroke="#8a8a8a" stroke-width="0.9"/>
<rect x="411.0" y="102.2" width="6.6" height="6.6" fill="#fff" stroke="#000" stroke-width="1.6"/>
<rect x="418.4" y="102.2" width="6.5" height="6.5" fill="#fff" stroke="#000" stroke-width="1.5"/>
<line x1="418.7" y1="105.5" x2="424.7" y2="105.5" stroke="#000" stroke-width="1.0"/>
<line x1="421.7" y1="102.5" x2="421.7" y2="108.5" stroke="#000" stroke-width="1.0"/>
<rect x="436.5" y="96.2" width="7.0" height="7.0" fill="#c4c4c4" stroke="#a0a0a0" stroke-width="1"/>
<line x1="437.0" y1="98.5" x2="443.0" y2="98.5" stroke="#8a8a8a" stroke-width="0.9"/>
<line x1="437.0" y1="100.9" x2="443.0" y2="100.9" stroke="#8a8a8a" stroke-width="0.9"/>
<circle cx="446.0" cy="106.7" r="3.8" fill="#b0b0b0"/>
<line x1="443.0" y1="106.7" x2="449.0" y2="106.7" stroke="#8e8e8e" stroke-width="0.8"/>
<rect x="436.0" y="106.0" width="8.0" height="8.0" fill="#000"/>
<rect x="442.0" y="106.0" width="8.0" height="8.0" fill="#000"/>
<rect x="436.7" y="112.5" width="6.6" height="6.6" fill="#fff" stroke="#000" stroke-width="1.6"/>
<rect x="443.2" y="113.2" width="6.5" height="6.5" fill="#fff" stroke="#000" stroke-width="1.5"/>
<line x1="443.5" y1="116.5" x2="449.5" y2="116.5" stroke="#000" stroke-width="1.0"/>
<line x1="446.5" y1="113.5" x2="446.5" y2="119.5" stroke="#000" stroke-width="1.0"/>
<circle cx="465.0" cy="115.5" r="3.8" fill="#b0b0b0"/>
<line x1="462.0" y1="115.5" x2="468.0" y2="115.5" stroke="#8e8e8e" stroke-width="0.8"/>
<circle cx="474.0" cy="115.5" r="3.8" fill="#b0b0b0"/>
<line x1="471.0" y1="115.5" x2="477.0" y2="115.5" stroke="#8e8e8e" stroke-width="0.8"/>
<rect x="461.5" y="123.0" width="8.0" height="8.0" fill="#000"/>
<rect x="462.2" y="120.8" width="6.5" height="6.5" fill="#fff" stroke="#000" stroke-width="1.5"/>
<line x1="462.5" y1="124.0" x2="468.5" y2="124.0" stroke="#000" stroke-width="1.0"/>
<line x1="465.5" y1="121.0" x2="465.5" y2="127.0" stroke="#000" stroke-width="1.0"/>
<rect x="470.8" y="120.8" width="6.5" height="6.5" fill="#fff" stroke="#000" stroke-width="1.5"/>
<line x1="471.0" y1="124.0" x2="477.0" y2="124.0" stroke="#000" stroke-width="1.0"/>
<line x1="474.0" y1="121.0" x2="474.0" y2="127.0" stroke="#000" stroke-width="1.0"/>
<rect x="486.9" y="118.8" width="6.5" height="6.5" fill="#fff" stroke="#000" stroke-width="1.5"/>
<line x1="487.6" y1="120.7" x2="492.6" y2="120.7" stroke="#000" stroke-width="0.7"/>
<line x1="487.6" y1="123.5" x2="492.6" y2="123.5" stroke="#000" stroke-width="0.7"/>
<rect x="499.6" y="129.2" width="6.5" height="6.5" fill="#fff" stroke="#000" stroke-width="1.5"/>
<line x1="499.8" y1="132.4" x2="505.8" y2="132.4" stroke="#000" stroke-width="1.0"/>
<line x1="502.8" y1="129.4" x2="502.8" y2="135.4" stroke="#000" stroke-width="1.0"/>
<text x="475.2" y="47.9" font-family='"Liberation Serif", serif' font-size="12.2" text-anchor="start" fill="#111" stroke="#111" stroke-width="0.25" >Cl-6</text>
<text x="426.6" y="79.0" font-family='"Liberation Serif", serif' font-size="12.2" text-anchor="start" fill="#111" stroke="#111" stroke-width="0.25" >Cl-12</text>
<text x="453.1" y="96.8" font-family='"Liberation Serif", serif' font-size="12.2" text-anchor="start" fill="#111" stroke="#111" stroke-width="0.25" >WT</text>
<text x="399.0" y="130.3" font-family='"Liberation Serif", serif' font-size="12.2" text-anchor="start" fill="#111" stroke="#111" stroke-width="0.25" >Cl-16</text>
<line x1="354.0" y1="173.9" x2="354.0" y2="212.9" stroke="#666" stroke-width="0.8"/>
<line x1="351.0" y1="173.9" x2="357.0" y2="173.9" stroke="#666" stroke-width="0.8"/>
<line x1="351.0" y1="212.9" x2="357.0" y2="212.9" stroke="#666" stroke-width="0.8"/>
<line x1="354.0" y1="211.9" x2="354.0" y2="244.3" stroke="#666" stroke-width="0.8"/>
<line x1="351.0" y1="211.9" x2="357.0" y2="211.9" stroke="#666" stroke-width="0.8"/>
<line x1="351.0" y1="244.3" x2="357.0" y2="244.3" stroke="#666" stroke-width="0.8"/>
<line x1="385.0" y1="194.7" x2="385.0" y2="229.3" stroke="#666" stroke-width="0.8"/>
<line x1="382.0" y1="194.7" x2="388.0" y2="194.7" stroke="#666" stroke-width="0.8"/>
<line x1="382.0" y1="229.3" x2="388.0" y2="229.3" stroke="#666" stroke-width="0.8"/>
<line x1="439.5" y1="197.5" x2="439.5" y2="217.9" stroke="#666" stroke-width="0.8"/>
<line x1="436.5" y1="197.5" x2="442.5" y2="197.5" stroke="#666" stroke-width="0.8"/>
<line x1="436.5" y1="217.9" x2="442.5" y2="217.9" stroke="#666" stroke-width="0.8"/>
<line x1="447.9" y1="205.4" x2="447.9" y2="218.8" stroke="#666" stroke-width="0.8"/>
<line x1="444.9" y1="205.4" x2="450.9" y2="205.4" stroke="#666" stroke-width="0.8"/>
<line x1="444.9" y1="218.8" x2="450.9" y2="218.8" stroke="#666" stroke-width="0.8"/>
<line x1="408.4" y1="218.7" x2="408.4" y2="242.8" stroke="#666" stroke-width="0.8"/>
<line x1="405.4" y1="218.7" x2="411.4" y2="218.7" stroke="#666" stroke-width="0.8"/>
<line x1="405.4" y1="242.8" x2="411.4" y2="242.8" stroke="#666" stroke-width="0.8"/>
<line x1="416.9" y1="224.3" x2="416.9" y2="244.7" stroke="#666" stroke-width="0.8"/>
<line x1="413.9" y1="224.3" x2="419.9" y2="224.3" stroke="#666" stroke-width="0.8"/>
<line x1="413.9" y1="244.7" x2="419.9" y2="244.7" stroke="#666" stroke-width="0.8"/>
<line x1="469.2" y1="228.9" x2="469.2" y2="242.8" stroke="#666" stroke-width="0.8"/>
<line x1="466.2" y1="228.9" x2="472.2" y2="228.9" stroke="#666" stroke-width="0.8"/>
<line x1="466.2" y1="242.8" x2="472.2" y2="242.8" stroke="#666" stroke-width="0.8"/>
<line x1="376.6" y1="178.0" x2="376.6" y2="187.0" stroke="#666" stroke-width="0.8"/>
<line x1="373.6" y1="178.0" x2="379.6" y2="178.0" stroke="#666" stroke-width="0.8"/>
<line x1="373.6" y1="187.0" x2="379.6" y2="187.0" stroke="#666" stroke-width="0.8"/>
<line x1="385.0" y1="177.0" x2="385.0" y2="186.0" stroke="#666" stroke-width="0.8"/>
<line x1="382.0" y1="177.0" x2="388.0" y2="177.0" stroke="#666" stroke-width="0.8"/>
<line x1="382.0" y1="186.0" x2="388.0" y2="186.0" stroke="#666" stroke-width="0.8"/>
<circle cx="354.0" cy="228.6" r="3.8" fill="#b0b0b0"/>
<line x1="351.0" y1="228.6" x2="357.0" y2="228.6" stroke="#8e8e8e" stroke-width="0.8"/>
<rect x="350.0" y="178.3" width="8.0" height="8.0" fill="#000"/>
<rect x="350.8" y="186.4" width="6.5" height="6.5" fill="#fff" stroke="#000" stroke-width="1.5"/>
<line x1="351.0" y1="189.7" x2="357.0" y2="189.7" stroke="#000" stroke-width="1.0"/>
<line x1="354.0" y1="186.7" x2="354.0" y2="192.7" stroke="#000" stroke-width="1.0"/>
<circle cx="354.0" cy="198.6" r="4.0" fill="#fff" stroke="#000" stroke-width="1.7"/>
<rect x="372.6" y="178.6" width="8.0" height="8.0" fill="#000"/>
<rect x="373.3" y="214.5" width="6.6" height="6.6" fill="#fff" stroke="#000" stroke-width="1.6"/>
<circle cx="376.2" cy="257.3" r="4.0" fill="#fff" stroke="#000" stroke-width="1.7"/>
<rect x="381.0" y="177.3" width="8.0" height="8.0" fill="#000"/>
<rect x="381.7" y="208.9" width="6.6" height="6.6" fill="#fff" stroke="#000" stroke-width="1.6"/>
<circle cx="385.0" cy="248.0" r="3.8" fill="#b0b0b0"/>
<line x1="382.0" y1="248.0" x2="388.0" y2="248.0" stroke="#8e8e8e" stroke-width="0.8"/>
<circle cx="385.0" cy="255.5" r="4.0" fill="#fff" stroke="#000" stroke-width="1.7"/>
<rect x="404.4" y="181.4" width="8.0" height="8.0" fill="#000"/>
<rect x="405.1" y="227.5" width="6.6" height="6.6" fill="#fff" stroke="#000" stroke-width="1.6"/>
<rect x="404.9" y="247.7" width="7.0" height="7.0" fill="#c4c4c4" stroke="#a0a0a0" stroke-width="1"/>
<line x1="405.4" y1="250.0" x2="411.4" y2="250.0" stroke="#8a8a8a" stroke-width="0.9"/>
<line x1="405.4" y1="252.4" x2="411.4" y2="252.4" stroke="#8a8a8a" stroke-width="0.9"/>
<circle cx="408.4" cy="261.4" r="4.0" fill="#fff" stroke="#000" stroke-width="1.7"/>
<line x1="405.6" y1="261.4" x2="411.2" y2="261.4" stroke="#333" stroke-width="0.9"/>
<rect x="412.9" y="188.5" width="8.0" height="8.0" fill="#000"/>
<rect x="413.6" y="231.2" width="6.6" height="6.6" fill="#fff" stroke="#000" stroke-width="1.6"/>
<rect x="413.4" y="247.7" width="7.0" height="7.0" fill="#c4c4c4" stroke="#a0a0a0" stroke-width="1"/>
<line x1="413.9" y1="250.0" x2="419.9" y2="250.0" stroke="#8a8a8a" stroke-width="0.9"/>
<line x1="413.9" y1="252.4" x2="419.9" y2="252.4" stroke="#8a8a8a" stroke-width="0.9"/>
<circle cx="416.9" cy="262.9" r="4.0" fill="#fff" stroke="#000" stroke-width="1.7"/>
<line x1="414.1" y1="262.9" x2="419.7" y2="262.9" stroke="#333" stroke-width="0.9"/>
<rect x="435.5" y="204.0" width="8.0" height="8.0" fill="#000"/>
<rect x="436.2" y="242.3" width="6.5" height="6.5" fill="#fff" stroke="#000" stroke-width="1.5"/>
<line x1="436.5" y1="245.6" x2="442.5" y2="245.6" stroke="#000" stroke-width="1.0"/>
<line x1="439.5" y1="242.6" x2="439.5" y2="248.6" stroke="#000" stroke-width="1.0"/>
<circle cx="439.5" cy="258.6" r="3.8" fill="#b0b0b0"/>
<line x1="436.5" y1="258.6" x2="442.5" y2="258.6" stroke="#8e8e8e" stroke-width="0.8"/>
<circle cx="439.5" cy="264.7" r="4.0" fill="#fff" stroke="#000" stroke-width="1.7"/>
<line x1="436.7" y1="264.7" x2="442.3" y2="264.7" stroke="#333" stroke-width="0.9"/>
<rect x="443.9" y="208.3" width="8.0" height="8.0" fill="#000"/>
<rect x="444.6" y="249.8" width="6.5" height="6.5" fill="#fff" stroke="#000" stroke-width="1.5"/>
<line x1="444.9" y1="253.0" x2="450.9" y2="253.0" stroke="#000" stroke-width="1.0"/>
<line x1="447.9" y1="250.0" x2="447.9" y2="256.0" stroke="#000" stroke-width="1.0"/>
<circle cx="447.9" cy="264.2" r="4.0" fill="#fff" stroke="#000" stroke-width="1.7"/>
<line x1="445.1" y1="264.2" x2="450.7" y2="264.2" stroke="#333" stroke-width="0.9"/>
<rect x="465.2" y="232.3" width="8.0" height="8.0" fill="#000"/>
<rect x="465.9" y="257.6" width="6.5" height="6.5" fill="#fff" stroke="#000" stroke-width="1.5"/>
<line x1="466.2" y1="260.8" x2="472.2" y2="260.8" stroke="#000" stroke-width="1.0"/>
<line x1="469.2" y1="257.8" x2="469.2" y2="263.8" stroke="#000" stroke-width="1.0"/>
<circle cx="469.2" cy="267.0" r="4.0" fill="#fff" stroke="#000" stroke-width="1.7"/>
<line x1="466.4" y1="267.0" x2="472.0" y2="267.0" stroke="#333" stroke-width="0.9"/>
<rect x="506.5" y="248.2" width="8.0" height="8.0" fill="#000"/>
<circle cx="510.5" cy="277.0" r="4.2" fill="#fff" stroke="#000" stroke-width="1.7"/>
<circle cx="510.5" cy="277.0" r="2.0" fill="#fff" stroke="#000" stroke-width="1.7"/>
<text x="495.0" y="247.7" font-family='"Liberation Serif", serif' font-size="12.2" text-anchor="start" fill="#111" stroke="#111" stroke-width="0.25" >Cl-6</text>
<text x="480.8" y="265.8" font-family='"Liberation Serif", serif' font-size="12.2" text-anchor="start" fill="#111" stroke="#111" stroke-width="0.25" >WT</text>
<text x="486.6" y="284.9" font-family='"Liberation Serif", serif' font-size="11.8" text-anchor="start" fill="#111" stroke="#111" stroke-width="0.25" >Cl-12</text>
<text x="387.2" y="282.7" font-family='"Liberation Serif", serif' font-size="12.2" text-anchor="start" fill="#111" stroke="#111" stroke-width="0.25" >Cl-16</text>
</svg>
</body></html>
